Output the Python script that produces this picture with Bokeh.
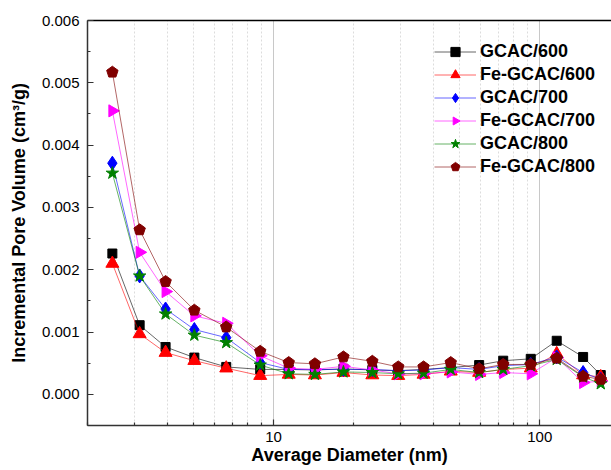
import numpy as np
from bokeh.plotting import figure
from bokeh.models import (FixedTicker, LinearAxis, Legend, LegendItem, PrintfTickFormatter,
                          Range1d, ColumnDataSource)
from bokeh.embed import file_html
from bokeh.resources import INLINE

diameter = [2.48, 3.14, 3.93, 5.04, 6.64, 8.91, 11.4, 14.3, 18.3, 23.5, 29.4, 36.6,
            46.3, 59.2, 72.9, 92.5, 115.8, 145.5, 169.5]

gcac600 = [0.00226, 0.00111, 0.00076, 0.00059, 0.00044, 0.00040, 0.00040, 0.00039,
           0.00041, 0.00039, 0.00038, 0.00040, 0.00043, 0.00047, 0.00054, 0.00057,
           0.00086, 0.00060, 0.00031]
fegcac600 = [0.00210, 0.00097, 0.00067, 0.00054, 0.00042, 0.00030, 0.00032, 0.00031,
             0.00035, 0.00031, 0.00030, 0.00032, 0.00037, 0.00035, 0.00040, 0.00042,
             0.00065, 0.00031, 0.00028]
gcac700 = [0.00371, 0.00190, 0.00137, 0.00104, 0.00091, 0.00051, 0.00040, 0.00040,
           0.00040, 0.00040, 0.00038, 0.00039, 0.00043, 0.00040, 0.00046, 0.00048,
           0.00060, 0.00035, 0.00024]
fegcac700 = [0.00455, 0.00228, 0.00165, 0.00126, 0.00114, 0.00062, 0.00042, 0.00040,
             0.00045, 0.00039, 0.00033, 0.00033, 0.00036, 0.00032, 0.00035, 0.00033,
             0.00059, 0.00019, 0.00021]
gcac800 = [0.00355, 0.00190, 0.00129, 0.00095, 0.00083, 0.00047, 0.00033, 0.00032,
           0.00036, 0.00035, 0.00033, 0.00034, 0.00040, 0.00035, 0.00040, 0.00046,
           0.00056, 0.00028, 0.00017]
fegcac800 = [0.00517, 0.00264, 0.00181, 0.00135, 0.00108, 0.00069, 0.00051, 0.00049,
             0.00060, 0.00053, 0.00044, 0.00044, 0.00051, 0.00041, 0.00048, 0.00048,
             0.00058, 0.00029, 0.00024]

labels = ["GCAC/600", "Fe-GCAC/600", "GCAC/700", "Fe-GCAC/700", "GCAC/800", "Fe-GCAC/800"]
series = [gcac600, fegcac600, gcac700, fegcac700, gcac800, fegcac800]
colors = ["#000000", "#FF0000", "#0000FF", "#FF00FF", "#008000", "#800000"]

x_ticks = [10, 100]
x_minor = [2, 3, 4, 5, 6, 7, 8, 9, 20, 30, 40, 50, 60, 70, 80, 90, 200]
y_ticks = [0.0, 0.001, 0.002, 0.003, 0.004, 0.005, 0.006]
y_minor = [-0.0005, 0.0005, 0.0015, 0.0025, 0.0035, 0.0045, 0.0055]

FONT = "Liberation Sans"
AXC = "#333333"

p = figure(width=611, height=470, x_axis_type="log", output_backend="svg",
           toolbar_location=None, x_range=Range1d(2, 186), y_range=Range1d(-0.0005, 0.006),
           min_border_left=87, min_border_right=0, min_border_top=20, min_border_bottom=45)
p.outline_line_color = None
p.background_fill_color = "white"

# axes
xa = p.xaxis[0]
xa.ticker = FixedTicker(ticks=x_ticks, minor_ticks=x_minor)
xa.formatter = PrintfTickFormatter(format="%d")
xa.axis_label = "Average Diameter (nm)"
ya = p.yaxis[0]
ya.ticker = FixedTicker(ticks=y_ticks, minor_ticks=y_minor)
ya.formatter = PrintfTickFormatter(format="%.3f")
ya.axis_label = "Incremental Pore Volume (cm³/g)"
for ax in (xa, ya):
    ax.axis_line_width = 1.5
    ax.axis_line_color = AXC
    ax.major_tick_in = 6
    ax.major_tick_out = 0
    ax.minor_tick_in = 3
    ax.minor_tick_out = 0
    ax.major_tick_line_color = AXC
    ax.minor_tick_line_color = AXC
    ax.major_tick_line_width = 1.2
    ax.minor_tick_line_width = 1.2
    ax.major_label_text_font = FONT
    ax.major_label_text_font_size = "15px"
    ax.major_label_text_color = "#000000"
    ax.axis_label_text_font = FONT
    ax.axis_label_text_font_size = "18px"
    ax.axis_label_text_font_style = "bold"
    ax.axis_label_text_color = "#000000"
xa.major_label_standoff = 6
xa.axis_label_standoff = 0
ya.major_label_standoff = 8
ya.axis_label_standoff = 10

top = LinearAxis(ticker=FixedTicker(ticks=[]), major_label_text_font_size="0px",
                 axis_line_width=1.5, axis_line_color="#000000",
                 major_tick_line_color=None, minor_tick_line_color=None)
p.add_layout(top, "above")

# grids
p.ygrid.visible = False
p.xgrid.ticker = FixedTicker(ticks=x_ticks, minor_ticks=x_minor)
p.xgrid.grid_line_color = "#c8c8c8"
p.xgrid.grid_line_width = 1
p.xgrid.minor_grid_line_color = "#dcdcdc"
p.xgrid.minor_grid_line_dash = "2 2"
p.xgrid.minor_grid_line_width = 1

items = []
for i, (lab, ys, col) in enumerate(zip(labels, series, colors)):
    src = ColumnDataSource(dict(x=diameter, y=ys))
    lr = p.line("x", "y", source=src, line_color=col, line_width=1, line_alpha=0.6)
    if i == 0:
        mr = p.scatter("x", "y", source=src, marker="square", size=9, color=col)
    elif i == 1:
        mr = p.scatter("x", "y", source=src, marker="triangle", size=13, color=col)
    elif i == 2:
        mr = p.scatter("x", "y", source=src, marker="diamond", size=14, color=col)
    elif i == 3:
        mr = p.ngon("x", "y", source=src, radius=7, radius_units="screen", n=3,
                    angle=-np.pi / 2, fill_color=col, line_color=col)
    elif i == 4:
        mr = p.scatter("x", "y", source=src, marker="star", size=13, color=col)
    else:
        mr = p.ngon("x", "y", source=src, radius=6, radius_units="screen", n=5,
                    angle=0, fill_color=col, line_color=col)
    items.append(LegendItem(label=lab, renderers=[lr, mr]))

legend = Legend(items=items, location=(347, 247))
legend.border_line_color = None
legend.background_fill_alpha = 0
legend.label_text_font = FONT
legend.label_text_font_size = "18px"
legend.label_text_font_style = "bold"
legend.label_text_color = "#000000"
legend.glyph_width = 42
legend.glyph_height = 23
legend.label_height = 23
legend.spacing = 0
legend.label_standoff = 4
legend.margin = 0
legend.padding = 6
p.add_layout(legend, "center")

open("out.html", "w").write(file_html(p, INLINE))
